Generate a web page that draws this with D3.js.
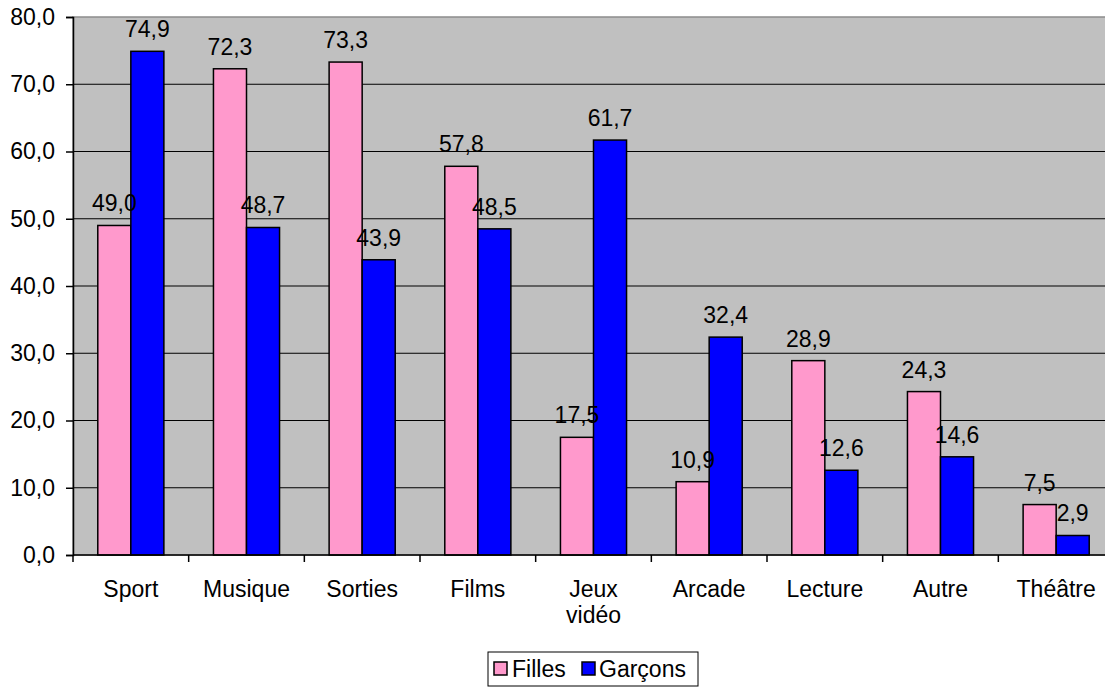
<!DOCTYPE html>
<html>
<head>
<meta charset="utf-8">
<script src="https://cdn.jsdelivr.net/npm/d3@7"></script>
<style>
  body { margin: 0; background: #fff; }
  svg { display: block; font-family: Arial, "Liberation Sans", sans-serif; }
</style>
</head>
<body>
<svg width="1105" height="687"></svg>
<script>
const categories = ["Sport", "Musique", "Sorties", "Films", "Jeux vidéo", "Arcade", "Lecture", "Autre", "Théâtre"];
const filles = [49.0, 72.3, 73.3, 57.8, 17.5, 10.9, 28.9, 24.3, 7.5];
const garcons = [74.9, 48.7, 43.9, 48.5, 61.7, 32.4, 12.6, 14.6, 2.9];
const seriesNames = ["Filles", "Garçons"];
const seriesColors = ["#FF99CC", "#0000FF"];
const yTicks = [0, 10, 20, 30, 40, 50, 60, 70, 80];

const fmt = v => v.toFixed(1).replace(".", ",");
const FS = 23;

function drawChart() {
  const svg = d3.select("svg");
  const margin = { top: 17, left: 73 };
  const innerWidth = 1041;   // la zone de tracé déborde à droite de l'image
  const innerHeight = 538;

  const g = svg.append("g")
    .attr("transform", `translate(${margin.left},${margin.top})`);

  const x = d3.scaleBand()
    .domain(categories)
    .range([0, innerWidth]);

  const xInner = d3.scaleBand()
    .domain(seriesNames)
    .range([0, x.bandwidth()])
    .paddingOuter(0.75);

  const y = d3.scaleLinear()
    .domain([0, 80])
    .range([innerHeight, 0]);

  // fond gris
  g.append("rect")
    .attr("width", innerWidth)
    .attr("height", innerHeight)
    .attr("fill", "#C0C0C0")
    .attr("stroke", "#8c8c8c")
    .attr("stroke-width", 1.5);

  // grille
  g.selectAll(".grid")
    .data(yTicks.filter(d => d > 0 && d < 80))
    .join("line")
    .attr("x1", 0)
    .attr("x2", innerWidth)
    .attr("y1", d => y(d))
    .attr("y2", d => y(d))
    .attr("stroke", "#000")
    .attr("stroke-width", 1);

  // barres
  const rows = categories.map((c, i) => ({ cat: c, values: [filles[i], garcons[i]] }));
  const groups = g.selectAll(".cat")
    .data(rows)
    .join("g")
    .attr("transform", d => `translate(${x(d.cat)},0)`);

  groups.selectAll("rect")
    .data(d => d.values.map((v, j) => ({ name: seriesNames[j], v, j })))
    .join("rect")
    .attr("x", d => xInner(d.name))
    .attr("y", d => y(d.v))
    .attr("width", xInner.bandwidth())
    .attr("height", d => innerHeight - y(d.v))
    .attr("fill", d => seriesColors[d.j])
    .attr("stroke", "#000")
    .attr("stroke-width", 1.5);

  groups.selectAll("text")
    .data(d => d.values.map((v, j) => ({ name: seriesNames[j], v, j })))
    .join("text")
    .attr("x", d => xInner(d.name) + xInner.bandwidth() / 2)
    .attr("y", d => y(d.v) - 14)
    .attr("text-anchor", "middle")
    .attr("font-size", FS)
    .attr("fill", "#000")
    .text(d => fmt(d.v));

  // axe Y
  const yAxis = g.append("g")
    .call(d3.axisLeft(y).tickValues(yTicks).tickSize(7).tickPadding(11).tickFormat(fmt));
  yAxis.select(".domain").attr("stroke", "#000").attr("stroke-width", 1.5);
  yAxis.selectAll(".tick line").attr("stroke", "#000").attr("stroke-width", 1.5);
  yAxis.selectAll(".tick text").attr("font-size", FS).attr("fill", "#000")
    .attr("font-family", "Arial, 'Liberation Sans', sans-serif");

  // axe X
  const xAxis = g.append("g")
    .attr("transform", `translate(0,${innerHeight})`);
  xAxis.append("line")
    .attr("x1", 0).attr("x2", innerWidth)
    .attr("stroke", "#000").attr("stroke-width", 1.5);
  xAxis.selectAll(".xtick")
    .data(categories)
    .join("line")
    .attr("x1", d => x(d)).attr("x2", d => x(d))
    .attr("y1", 0).attr("y2", 7)
    .attr("stroke", "#000").attr("stroke-width", 1.5);

  const labels = xAxis.selectAll(".xlabel")
    .data(categories)
    .join("text")
    .attr("text-anchor", "middle")
    .attr("font-size", FS)
    .attr("fill", "#000")
    .attr("transform", d => `translate(${x(d) + x.bandwidth() / 2},42)`);
  labels.selectAll("tspan")
    .data(d => d === "Jeux vidéo" ? ["Jeux", "vidéo"] : [d])
    .join("tspan")
    .attr("x", 0)
    .attr("dy", (d, i) => i === 0 ? 0 : 26)
    .text(d => d);

  // légende
  const legend = svg.append("g").attr("transform", "translate(488,652)");
  legend.append("rect")
    .attr("width", 210).attr("height", 34)
    .attr("fill", "#fff").attr("stroke", "#000").attr("stroke-width", 1);
  const items = [{ x: 6, tx: 24 }, { x: 94, tx: 111 }];
  seriesNames.forEach((name, i) => {
    legend.append("rect")
      .attr("x", items[i].x).attr("y", 10)
      .attr("width", 13).attr("height", 13)
      .attr("fill", seriesColors[i])
      .attr("stroke", "#000").attr("stroke-width", 1.5);
    legend.append("text")
      .attr("x", items[i].tx).attr("y", 25)
      .attr("font-size", FS).attr("fill", "#000")
      .text(name);
  });
}

drawChart();
</script>
</body>
</html>
